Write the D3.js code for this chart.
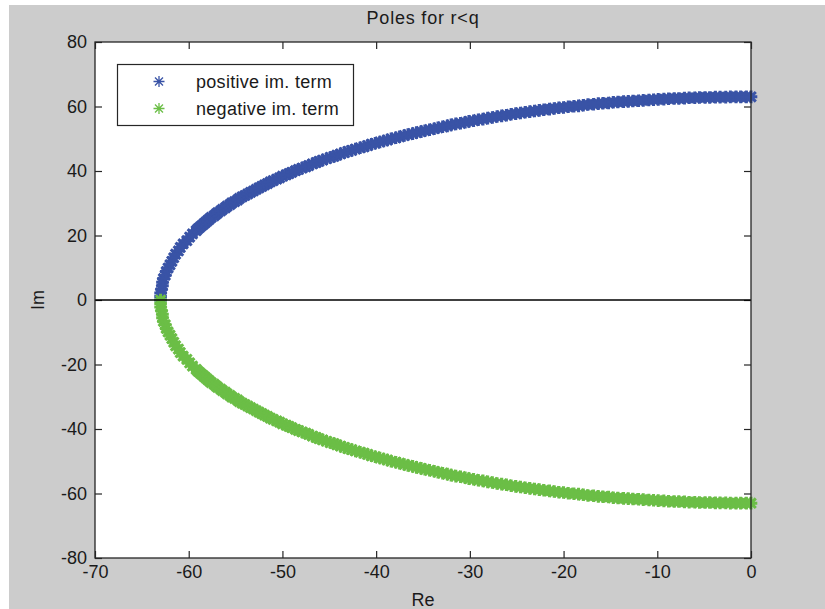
<!DOCTYPE html>
<html>
<head>
<meta charset="utf-8">
<script src="https://cdn.jsdelivr.net/npm/d3@7"></script>
<style>
  html, body { margin: 0; padding: 0; background: #ffffff; }
  svg { display: block; }
  text { font-family: "Liberation Sans", Arial, Helvetica, sans-serif; fill: #1a1a1a; }
</style>
</head>
<body>
<svg id="chart" width="825" height="609"></svg>
<script>
// Pole locations: real part and imaginary part of each conjugate pair
const re = [
  -63.0, -63.0, -63.0, -62.9, -62.8, -62.8, -62.7, -62.5, -62.4, -62.2, -62.0,
  -61.8, -61.6, -61.4, -61.1, -60.9, -60.6, -60.2, -59.9, -59.6, -59.2,
  -59.0, -58.8, -58.6, -58.4, -58.2, -58.0, -57.8, -57.6, -57.3, -57.1,
  -56.9, -56.6, -56.4, -56.1, -55.9, -55.6, -55.4, -55.1, -54.8, -54.6,
  -54.3, -54.0, -53.7, -53.4, -53.1, -52.8, -52.5, -52.2, -51.9, -51.6,
  -51.3, -51.0, -50.6, -50.3, -50.0, -49.6, -49.3, -49.0, -48.6, -48.3,
  -47.9, -47.5, -47.2, -46.8, -46.4, -46.1, -45.7, -45.3, -44.9, -44.5,
  -44.2, -43.8, -43.4, -43.0, -42.6, -42.2, -41.7, -41.3, -40.9, -40.5,
  -40.1, -39.6, -39.2, -38.8, -38.4, -37.9, -37.5, -37.0, -36.6, -36.1,
  -35.7, -35.2, -34.8, -34.3, -33.8, -33.4, -32.9, -32.4, -32.0, -31.5,
  -31.0, -30.5, -30.1, -29.6, -29.1, -28.6, -28.1, -27.6, -27.1, -26.6,
  -26.1, -25.6, -25.1, -24.6, -24.1, -23.6, -23.1, -22.6, -22.1, -21.5,
  -21.0, -20.5, -20.0, -19.5, -18.9, -18.4, -17.9, -17.4, -16.8, -16.3,
  -15.8, -15.2, -14.7, -14.2, -13.6, -13.1, -12.6, -12.0, -11.5, -10.9,
  -10.4, -9.9, -9.3, -8.8, -8.2, -7.7, -7.1, -6.6, -6.0, -5.5,
  -4.9, -4.4, -3.8, -3.3, -2.7, -2.2, -1.6, -1.1, -0.5, 0.0
];
const imPos = [
  0.0, 1.1, 2.2, 3.3, 4.4, 5.5, 6.6, 7.7, 8.8, 9.9, 10.9,
  12.0, 13.1, 14.2, 15.2, 16.3, 17.4, 18.4, 19.5, 20.5, 21.5,
  22.1, 22.6, 23.1, 23.6, 24.1, 24.6, 25.1, 25.6, 26.1, 26.6,
  27.1, 27.6, 28.1, 28.6, 29.1, 29.6, 30.1, 30.5, 31.0, 31.5,
  32.0, 32.4, 32.9, 33.4, 33.8, 34.3, 34.8, 35.2, 35.7, 36.1,
  36.6, 37.0, 37.5, 37.9, 38.4, 38.8, 39.2, 39.6, 40.1, 40.5,
  40.9, 41.3, 41.7, 42.2, 42.6, 43.0, 43.4, 43.8, 44.2, 44.5,
  44.9, 45.3, 45.7, 46.1, 46.4, 46.8, 47.2, 47.5, 47.9, 48.3,
  48.6, 49.0, 49.3, 49.6, 50.0, 50.3, 50.6, 51.0, 51.3, 51.6,
  51.9, 52.2, 52.5, 52.8, 53.1, 53.4, 53.7, 54.0, 54.3, 54.6,
  54.8, 55.1, 55.4, 55.6, 55.9, 56.1, 56.4, 56.6, 56.9, 57.1,
  57.3, 57.6, 57.8, 58.0, 58.2, 58.4, 58.6, 58.8, 59.0, 59.2,
  59.4, 59.6, 59.7, 59.9, 60.1, 60.2, 60.4, 60.6, 60.7, 60.9,
  61.0, 61.1, 61.3, 61.4, 61.5, 61.6, 61.7, 61.8, 61.9, 62.0,
  62.1, 62.2, 62.3, 62.4, 62.5, 62.5, 62.6, 62.7, 62.7, 62.8,
  62.8, 62.8, 62.9, 62.9, 62.9, 63.0, 63.0, 63.0, 63.0, 63.0
];
const imNeg = [
  -0.0, -1.1, -2.2, -3.3, -4.4, -5.5, -6.6, -7.7, -8.8, -9.9, -10.9,
  -12.0, -13.1, -14.2, -15.2, -16.3, -17.4, -18.4, -19.5, -20.5, -21.5,
  -22.1, -22.6, -23.1, -23.6, -24.1, -24.6, -25.1, -25.6, -26.1, -26.6,
  -27.1, -27.6, -28.1, -28.6, -29.1, -29.6, -30.1, -30.5, -31.0, -31.5,
  -32.0, -32.4, -32.9, -33.4, -33.8, -34.3, -34.8, -35.2, -35.7, -36.1,
  -36.6, -37.0, -37.5, -37.9, -38.4, -38.8, -39.2, -39.6, -40.1, -40.5,
  -40.9, -41.3, -41.7, -42.2, -42.6, -43.0, -43.4, -43.8, -44.2, -44.5,
  -44.9, -45.3, -45.7, -46.1, -46.4, -46.8, -47.2, -47.5, -47.9, -48.3,
  -48.6, -49.0, -49.3, -49.6, -50.0, -50.3, -50.6, -51.0, -51.3, -51.6,
  -51.9, -52.2, -52.5, -52.8, -53.1, -53.4, -53.7, -54.0, -54.3, -54.6,
  -54.8, -55.1, -55.4, -55.6, -55.9, -56.1, -56.4, -56.6, -56.9, -57.1,
  -57.3, -57.6, -57.8, -58.0, -58.2, -58.4, -58.6, -58.8, -59.0, -59.2,
  -59.4, -59.6, -59.7, -59.9, -60.1, -60.2, -60.4, -60.6, -60.7, -60.9,
  -61.0, -61.1, -61.3, -61.4, -61.5, -61.6, -61.7, -61.8, -61.9, -62.0,
  -62.1, -62.2, -62.3, -62.4, -62.5, -62.5, -62.6, -62.7, -62.7, -62.8,
  -62.8, -62.8, -62.9, -62.9, -62.9, -63.0, -63.0, -63.0, -63.0, -63.0
];

const seriesNames = ["positive im. term", "negative im. term"];
const seriesColors = ["#3953a6", "#6bbe46"];
const xTicks = [-70, -60, -50, -40, -30, -20, -10, 0];
const yTicks = [80, 60, 40, 20, 0, -20, -40, -60, -80];
const xDomain = [-70, 0];
const yDomain = [-80, 80];
const titleText = "Poles for r<q";
const xLabel = "Re";
const yLabel = "Im";

const W = 825, H = 609;
const box = { left: 95, right: 751, top: 42, bottom: 558 };

const svg = d3.select("#chart");

// figure background
svg.append("rect").attr("x", 9).attr("y", 5).attr("width", W - 9).attr("height", H - 5)
  .attr("fill", "#cccccc");

const x = d3.scaleLinear().domain(xDomain).range([box.left, box.right]);
const y = d3.scaleLinear().domain(yDomain).range([box.bottom, box.top]);

// axes area
svg.append("rect")
  .attr("x", box.left).attr("y", box.top)
  .attr("width", box.right - box.left).attr("height", box.bottom - box.top)
  .attr("fill", "#ffffff");

const tickLen = 7;
const fontSize = 18;

function styleAxis(g, showLabels) {
  g.select(".domain").remove();
  g.selectAll(".tick line").attr("stroke", "#262626").attr("stroke-width", 1.2);
  g.selectAll(".tick text")
    .attr("font-size", fontSize)
    .attr("font-family", null)
    .attr("fill", "#1a1a1a")
    .style("display", showLabels ? null : "none");
}

const fmt = d => String(d);

svg.append("g").attr("transform", `translate(0,${box.bottom})`)
  .call(d3.axisBottom(x).tickValues(xTicks).tickFormat(fmt).tickSize(-tickLen).tickSizeOuter(0).tickPadding(7))
  .call(g => styleAxis(g, true));

svg.append("g").attr("transform", `translate(0,${box.top})`)
  .call(d3.axisTop(x).tickValues(xTicks).tickSize(-tickLen).tickSizeOuter(0))
  .call(g => styleAxis(g, false));

svg.append("g").attr("transform", `translate(${box.left},0)`)
  .call(d3.axisLeft(y).tickValues(yTicks).tickFormat(fmt).tickSize(-tickLen).tickSizeOuter(0).tickPadding(8))
  .call(g => styleAxis(g, true));

svg.append("g").attr("transform", `translate(${box.right},0)`)
  .call(d3.axisRight(y).tickValues(yTicks).tickSize(-tickLen).tickSizeOuter(0))
  .call(g => styleAxis(g, false));

// asterisk marker: plus sign overlaid with a cross
function asteriskPath(r, d) {
  return `M${-r},0H${r}M0,${-r}V${r}M${-d},${-d}L${d},${d}M${-d},${d}L${d},${-d}`;
}
const dataMarker = asteriskPath(6.3, 4.8);
const legendMarker = asteriskPath(5.5, 4);

const plot = svg.append("g");
const series = [imPos, imNeg].map((ims, s) => re.map((v, i) => ({ re: v, im: ims[i], s })));
series.forEach((pts, s) => {
  plot.append("g")
    .selectAll("path")
    .data(pts)
    .join("path")
    .attr("d", dataMarker)
    .attr("transform", p => `translate(${x(p.re)},${y(p.im)})`)
    .attr("fill", "none")
    .attr("stroke", seriesColors[s])
    .attr("stroke-width", 3);
});

// real axis line
svg.append("line")
  .attr("x1", x(xDomain[0])).attr("x2", x(xDomain[1]))
  .attr("y1", y(0)).attr("y2", y(0))
  .attr("stroke", "#000000").attr("stroke-width", 1.3);

// axes box
svg.append("rect")
  .attr("x", box.left).attr("y", box.top)
  .attr("width", box.right - box.left).attr("height", box.bottom - box.top)
  .attr("fill", "none").attr("stroke", "#262626").attr("stroke-width", 1.3);

// title and axis labels
svg.append("text").attr("x", (box.left + box.right) / 2).attr("y", 24)
  .attr("text-anchor", "middle").attr("font-size", 18).attr("letter-spacing", 0.8).text(titleText);
svg.append("text").attr("x", (box.left + box.right) / 2).attr("y", 606)
  .attr("text-anchor", "middle").attr("font-size", 18).text(xLabel);
svg.append("text").attr("transform", `translate(44,${y(0)}) rotate(-90)`)
  .attr("text-anchor", "middle").attr("font-size", 18).text(yLabel);

// legend
const leg = svg.append("g");
leg.append("rect").attr("x", 117.5).attr("y", 64.5).attr("width", 236).attr("height", 61)
  .attr("fill", "#ffffff").attr("stroke", "#262626").attr("stroke-width", 1.2);
seriesNames.forEach((name, i) => {
  const cy = 81.5 + i * 27;
  leg.append("path").attr("d", legendMarker).attr("transform", `translate(159,${cy})`)
    .attr("fill", "none").attr("stroke", seriesColors[i]).attr("stroke-width", 1.3);
  leg.append("text").attr("x", 196).attr("y", cy + 6.5).attr("font-size", 18).attr("letter-spacing", 0.3).text(name);
});
</script>
</body>
</html>
